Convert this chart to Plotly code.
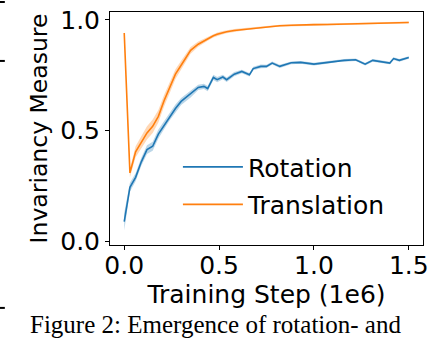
import plotly.graph_objects as go

# training steps (in 1e6)
steps = [0.0, 0.03, 0.06, 0.09, 0.12, 0.15, 0.18, 0.21, 0.24, 0.27, 0.30, 0.35,
         0.39, 0.42, 0.44, 0.47, 0.49, 0.52, 0.54, 0.58, 0.62, 0.66, 0.68, 0.72,
         0.75, 0.78, 0.82, 0.88, 0.93, 1.0, 1.07, 1.14, 1.16, 1.22, 1.27, 1.31,
         1.37, 1.40, 1.42, 1.45, 1.5]

rotation = [0.09, 0.245, 0.29, 0.36, 0.415, 0.43, 0.485, 0.525, 0.565, 0.60, 0.632, 0.665,
            0.695, 0.70, 0.69, 0.74, 0.73, 0.742, 0.73, 0.755, 0.767, 0.752, 0.78, 0.79,
            0.79, 0.805, 0.79, 0.806, 0.808, 0.80, 0.808, 0.818, 0.817, 0.82, 0.80, 0.817,
            0.81, 0.805, 0.825, 0.817, 0.83]
rotation_err = [0.04, 0.02, 0.018, 0.018, 0.02, 0.02, 0.02, 0.018, 0.018, 0.018, 0.016, 0.015,
                0.012, 0.012, 0.012, 0.012, 0.012, 0.01, 0.01, 0.01, 0.008, 0.008, 0.008, 0.008,
                0.007, 0.007, 0.007, 0.006, 0.006, 0.006, 0.006, 0.006, 0.006, 0.006, 0.006, 0.006,
                0.006, 0.006, 0.006, 0.006, 0.006]

translation = [0.94, 0.31, 0.405, 0.45, 0.49, 0.52, 0.565, 0.635, 0.695, 0.755, 0.795, 0.862,
               0.89, 0.905, 0.915, 0.928, 0.935, 0.942, 0.946, 0.952, 0.956, 0.96, 0.962, 0.966,
               0.969, 0.971, 0.973, 0.975, 0.977, 0.978, 0.979, 0.98, 0.98, 0.981, 0.982, 0.984,
               0.985, 0.986, 0.986, 0.987, 0.988]
translation_err = [0.01, 0.02, 0.025, 0.028, 0.03, 0.03, 0.028, 0.026, 0.025, 0.022, 0.02, 0.015,
                   0.012, 0.01, 0.01, 0.008, 0.008, 0.007, 0.007, 0.006, 0.006, 0.005, 0.005, 0.005,
                   0.005, 0.005, 0.004, 0.004, 0.004, 0.004, 0.004, 0.004, 0.004, 0.004, 0.004, 0.004,
                   0.004, 0.004, 0.004, 0.004, 0.004]

series = [
    ("Rotation", rotation, rotation_err, "#1f77b4", "rgba(31,119,180,0.3)"),
    ("Translation", translation, translation_err, "#ff7f0e", "rgba(255,127,14,0.3)"),
]

FONT = "DejaVu Sans"
fig = go.Figure()

for name, vals, err, col, band in series:
    lo = [v - e for v, e in zip(vals, err)]
    hi = [v + e for v, e in zip(vals, err)]
    # shaded band
    fig.add_trace(go.Scatter(x=steps + steps[::-1], y=hi + lo[::-1], fill="toself",
                             fillcolor=band, line=dict(width=0), hoverinfo="skip",
                             showlegend=False, legendgroup=name))
    fig.add_trace(go.Scatter(x=steps, y=vals, mode="lines", name=name, legendgroup=name,
                             line=dict(color=col, width=1.6)))

axis_style = dict(showgrid=False, zeroline=False, showline=True, linecolor="black",
                  linewidth=1, mirror=True, ticks="outside", ticklen=4, tickcolor="black",
                  automargin=False,
                  tickfont=dict(family=FONT, size=25, color="black"))

fig.update_xaxes(range=[-0.075, 1.575], tickvals=[0, 0.5, 1.0, 1.5], tickformat=".1f",
                 ticklabelstandoff=-6,
                 title=dict(text="Training Step (1e6)", standoff=1,
                            font=dict(family=FONT, size=25, color="black")),
                 **axis_style)
fig.update_yaxes(range=[-0.015, 1.035], tickvals=[0, 0.5, 1.0], tickformat=".1f",
                 title=dict(text="Invariancy Measure", standoff=6,
                            font=dict(family=FONT, size=23.5, color="black")),
                 **axis_style)

# caption of the page below the figure
fig.add_annotation(text="Figure 2: Emergence of rotation- and", xref="paper", yref="paper",
                   x=-0.262, y=-0.2747, xanchor="left", yanchor="top", showarrow=False,
                   font=dict(family="Liberation Serif", size=25, color="black"))

# bits of the neighbouring figure on the left edge
for py in [1.043, 0.79, -0.27]:
    fig.add_shape(type="line", xref="paper", yref="paper", x0=-0.352, x1=-0.336,
                  y0=py, y1=py, line=dict(color="black", width=2))

fig.update_layout(
    width=434, height=338,
    margin=dict(l=110, r=11, t=12, b=93),
    paper_bgcolor="white", plot_bgcolor="white",
    font=dict(family=FONT, color="black"),
    legend=dict(x=0.217, y=0.433, xanchor="left", yanchor="top", itemwidth=60,
                tracegroupgap=2,
                bgcolor="rgba(0,0,0,0)", font=dict(family=FONT, size=25, color="black")),
)

# drop the page's default body margin so the figure sits at the window corner
fig.write_html("out.html", config={"displayModeBar": False},
               post_script="document.body.style.margin='0';")
